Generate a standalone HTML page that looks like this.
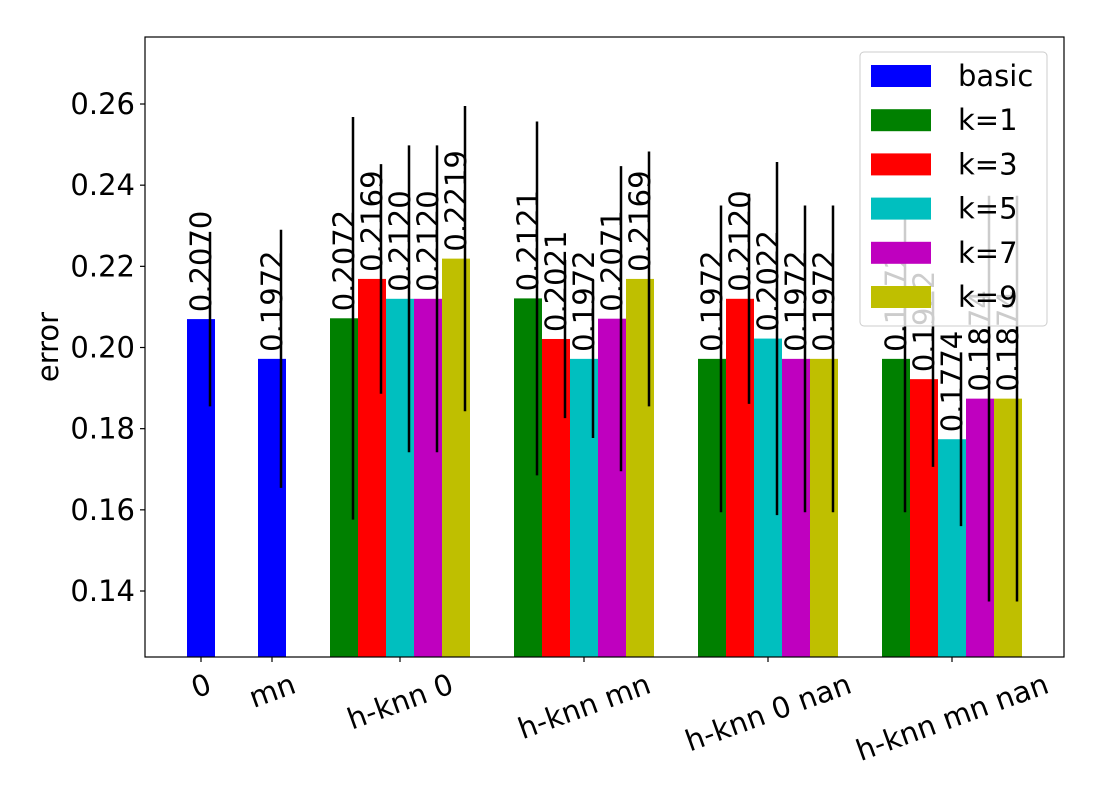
<!DOCTYPE html>
<html><head><meta charset="utf-8">
<style>
html,body{margin:0;padding:0;background:#fff;}
svg{display:block;font-family:"DejaVu Sans","Liberation Sans",sans-serif;}
</style></head>
<body>
<svg id="chart" width="1100" height="800" viewBox="0 0 1100 800" xmlns="http://www.w3.org/2000/svg">
<rect x="0" y="0" width="1100" height="800" fill="#fff"/>
<g id="bars"></g>
<g id="labels"></g>
<g id="errs"></g>
<rect x="145" y="37" width="919" height="620" fill="none" stroke="#000" stroke-width="1.2"/>
<g id="yaxis"></g>
<g id="xaxis"></g>
<text x="0" y="0" transform="translate(58,347) rotate(-90)" text-anchor="middle" font-size="29">error</text>
<g id="legend"></g>
</svg>
<script>
const categories = ["0","mn","h-knn 0","h-knn mn","h-knn 0 nan","h-knn mn nan"];
const seriesNames = ["basic","k=1","k=3","k=5","k=7","k=9"];
const basicValues = [0.2070,0.1972];
const basicErrors = [0.0215,0.0318];
const knnValues = [
  [0.2072,0.2169,0.2120,0.2120,0.2219],
  [0.2121,0.2021,0.1972,0.2071,0.2169],
  [0.1972,0.2120,0.2022,0.1972,0.1972],
  [0.1972,0.1922,0.1774,0.1874,0.1874]
];
const knnErrors = [
  [0.0496,0.0283,0.0378,0.0378,0.0376],
  [0.0436,0.0195,0.0195,0.0376,0.0314],
  [0.0378,0.0259,0.0435,0.0378,0.0378],
  [0.0378,0.0216,0.0214,0.0500,0.0500]
];
const yTicks = [0.14,0.16,0.18,0.20,0.22,0.24,0.26];
const colors = ["#0000ff","#008000","#ff0000","#00bfbf","#bf00bf","#bfbf00"];

const NS="http://www.w3.org/2000/svg";
const yMin=0.14, yPx0=591, pxPer=4058.3;
function yScale(v){return yPx0-(v-yMin)*pxPer;}
const catX=[201,272,400,584,768,952];
function xScale(i){return catX[i];}
const bw=28, axisBottom=657, FS=29;
function mk(tag,attrs,parent){const e=document.createElementNS(NS,tag);for(const k in attrs)e.setAttribute(k,attrs[k]);parent.appendChild(e);return e;}
const gB=document.getElementById('bars'),gL=document.getElementById('labels'),gE=document.getElementById('errs');

function drawBar(cx,v,err,color,name){
  const left=cx-bw/2, top=yScale(v);
  const r=mk('rect',{x:left,y:top,width:bw,height:axisBottom-top,fill:color},gB);
  
  
  const ex=left+23;
  const l=mk('line',{x1:ex,x2:ex,y1:Math.max(37,yScale(v+err)),y2:Math.min(axisBottom,yScale(v-err)),stroke:'#000','stroke-width':2.5},gE);
  
  
  const t=mk('text',{x:0,y:0,transform:'translate('+(cx+10)+','+(top-7)+') rotate(-90)','font-size':FS,fill:'#000'},gL);
  t.textContent=v.toFixed(4);
  
  
}
basicValues.forEach((v,i)=>drawBar(xScale(i),v,basicErrors[i],colors[0],'bar-basic-'+i));
knnValues.forEach((arr,g)=>{
  arr.forEach((v,s)=>{
    const cx=xScale(g+2)+(s-2)*bw;
    drawBar(cx,v,knnErrors[g][s],colors[s+1],'bar-g'+(g+2)+'-k'+s);
  });
});

const gY=document.getElementById('yaxis');
yTicks.forEach(t=>{
  const y=yScale(t);
  const l=mk('line',{x1:140,x2:145,y1:y,y2:y,stroke:'#000','stroke-width':1.2},gY);
  
  
  const tx=mk('text',{x:135,y:y+10,'text-anchor':'end','font-size':FS},gY);
  tx.textContent=t.toFixed(2);
  
  
});
const gX=document.getElementById('xaxis');
const sin20=Math.sin(20*Math.PI/180), cos20=Math.cos(20*Math.PI/180);
categories.forEach((c,i)=>{
  const x=xScale(i);
  const l=mk('line',{x1:x,x2:x,y1:657,y2:662,stroke:'#000','stroke-width':1.2},gX);
  
  
  const tx=mk('text',{x:0,y:0,'text-anchor':'middle','font-size':FS},gX);
  tx.textContent=c;
  
  
  const w=tx.getComputedTextLength();
  const h=FS*1.05;
  const bboxH=w*sin20+h*cos20;
  const cy=668+bboxH/2;
  tx.setAttribute('transform','translate('+x+','+cy+') rotate(-20) translate(0,'+(FS*0.36)+')');
});

const gLeg=document.getElementById('legend');
const box=mk('rect',{x:860,y:52,width:187,height:274,rx:4,fill:'#fff','fill-opacity':0.8,stroke:'#cccccc','stroke-width':1},gLeg);


seriesNames.forEach((n,i)=>{
  const y=76+i*44.2;
  const p=mk('rect',{x:871,y:y-11,width:60,height:22,fill:colors[i]},gLeg);
  
  
  const t=mk('text',{x:958,y:y+10,'font-size':FS},gLeg);
  t.textContent=n;
  
  
});
</script>
</body></html>
